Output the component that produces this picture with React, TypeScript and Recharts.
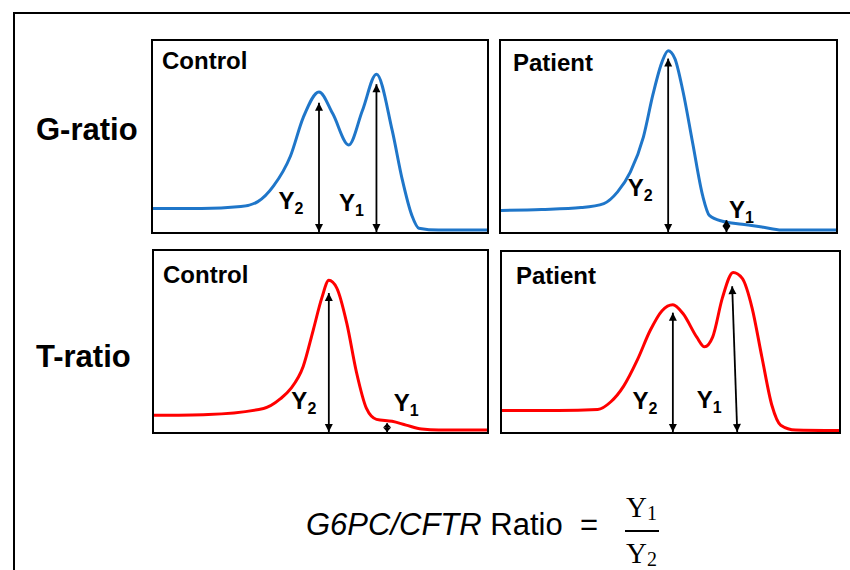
import { LineChart, Line, XAxis, YAxis, ReferenceLine } from "recharts"

// elution position (0-100 across the panel) and signal (0-100 of panel height)
const gControlX = [0, 14.5, 26.3, 31.4, 36.1, 41.1, 45, 49.7, 53.8, 58.6, 62.7, 66.9, 71.6, 74.6, 77.5, 79.6, 85.5, 100]
const gControlY = [12.3, 12.3, 13.3, 15.9, 24.1, 39.5, 60, 73.3, 62, 45.6, 63.6, 82.6, 53.3, 27.7, 8.7, 2, 1, 1]

const gPatientX = [0, 12.1, 23.9, 30.7, 34.8, 38.6, 42.5, 45.4, 48.1, 49.9, 51.9, 54.3, 57.2, 60.2, 62.2, 66.1, 72, 77.9, 83.8, 100]
const gPatientY = [11.3, 11.8, 12.8, 14.9, 21, 31.3, 49.7, 72.3, 89.2, 94.9, 90.8, 73.8, 46.7, 19, 8.7, 5.6, 4.1, 2.6, 1, 1]

const tControlX = [0, 16.3, 32.9, 38, 41, 44.8, 47.8, 50.4, 52.5, 54.9, 57.9, 60.8, 63.8, 66.8, 71.5, 75.7, 80.4, 85.5, 100]
const tControlY = [9.2, 9.7, 13, 18.4, 23.8, 36.2, 56.2, 74.1, 83.8, 79.5, 60, 33, 13, 7, 5.9, 3.8, 1.6, 1.1, 1.1]

const tPatientX = [0, 16.7, 28.4, 32.3, 36.1, 40.2, 44, 47.5, 50.7, 53.7, 57.8, 60.1, 62.5, 65.4, 68.6, 71.3, 74.2, 77.1, 80.1, 82.7, 87.1, 100]
const tPatientY = [12, 12, 12.5, 16.8, 25.5, 40.2, 56.5, 67.4, 70.7, 65.8, 52.7, 47.3, 52.7, 74.5, 88.6, 85.3, 69, 41.8, 14.7, 3.8, 1.1, 0.8]

// peak height arrows: x at baseline, xTop at tip, top = height
const gControlArrows = [
  { sub: "2", x: 49.7, xTop: 49.7, top: 67.7 },
  { sub: "1", x: 66.9, xTop: 66.9, top: 77.4 },
]
const gPatientArrows = [
  { sub: "2", x: 49.9, xTop: 49.9, top: 90.8 },
  { sub: "1", x: 67.3, xTop: 67.3, top: 6.2 },
]
const tControlArrows = [
  { sub: "2", x: 52.5, xTop: 52.5, top: 76.8 },
  { sub: "1", x: 70, xTop: 70, top: 4.9 },
]
const tPatientArrows = [
  { sub: "2", x: 50.7, xTop: 50.7, top: 66.3 },
  { sub: "1", x: 69.8, xTop: 68.3, top: 81 },
]

const rowLabels = ["G-ratio", "T-ratio"]
const panelTitles = ["Control", "Patient"]

const BLUE = "#1f76c9"
const RED = "#ff0000"
const SANS = '"Liberation Sans", Arial, sans-serif'
const SERIF = '"Liberation Serif", "DejaVu Serif", serif'

// label offsets in px: [dx from arrow base, height of label centre above baseline]
const panels = [
  { left: 151, top: 39, w: 338, h: 195, xs: gControlX, ys: gControlY, arrows: gControlArrows, color: BLUE, offs: [[-28, 31], [-25, 29]] },
  { left: 499, top: 39, w: 339, h: 195, xs: gPatientX, ys: gPatientY, arrows: gPatientArrows, color: BLUE, offs: [[-28, 44], [15, 22]] },
  { left: 152, top: 249, w: 337, h: 185, xs: tControlX, ys: tControlY, arrows: tControlArrows, color: RED, offs: [[-25, 31], [19, 29]] },
  { left: 500, top: 250, w: 341, h: 184, xs: tPatientX, ys: tPatientY, arrows: tPatientArrows, color: RED, offs: [[-28, 31], [-28, 32]] },
]

function arrowShape(sub: string, off: number[]) {
  return (p: any) => {
    const { x1, y1, x2, y2 } = p
    const len = Math.hypot(x2 - x1, y2 - y1) || 1
    const ux = (x2 - x1) / len
    const uy = (y2 - y1) / len
    const hl = Math.min(8, len / 2)
    const hw = 4
    const head = (tx: number, ty: number, dx: number, dy: number) => {
      const bx = tx - dx * hl
      const by = ty - dy * hl
      return `${tx},${ty} ${bx - dy * hw},${by + dx * hw} ${bx + dy * hw},${by - dx * hw}`
    }
    return (
      <g>
        <line x1={x1} y1={y1} x2={x2} y2={y2} stroke="#000" strokeWidth={1.8} />
        <polygon points={head(x2, y2, ux, uy)} fill="#000" />
        <polygon points={head(x1, y1, -ux, -uy)} fill="#000" />
        <text
          x={x1 + off[0]}
          y={y1 - off[1] + 8}
          textAnchor="middle"
          fontFamily={SANS}
          fontWeight="bold"
          fontSize={24}
          fill="#000"
        >
          Y<tspan fontSize={16} dy={5}>{sub}</tspan>
        </text>
      </g>
    )
  }
}

function Panel({ left, top, w, h, xs, ys, arrows, color, offs }: any) {
  const data = xs.map((x: number, i: number) => ({ x, y: ys[i] }))
  return (
    <div style={{ position: "absolute", left, top, width: w - 4, height: h - 4, border: "2px solid #000" }}>
      <LineChart width={w - 4} height={h - 4} data={data} margin={{ top: 0, right: 0, bottom: 0, left: 0 }}>
        <XAxis dataKey="x" type="number" domain={[0, 100]} hide />
        <YAxis type="number" domain={[0, 100]} hide />
        <Line type="monotone" dataKey="y" stroke={color} strokeWidth={3} dot={false} isAnimationActive={false} />
        {arrows.map((a: any, i: number) => (
          <ReferenceLine
            key={i}
            segment={[{ x: a.x, y: 0 }, { x: a.xTop, y: a.top }]}
            shape={arrowShape(a.sub, offs[i])}
          />
        ))}
      </LineChart>
    </div>
  )
}

export default function App() {
  return (
    <div style={{ position: "absolute", left: 0, top: 0, width: 850, height: 570, overflow: "hidden", background: "#fff" }}>
      {panels.map((p, i) => (
        <Panel key={i} {...p} />
      ))}
      <svg width={850} height={570} style={{ position: "absolute", left: 0, top: 0, pointerEvents: "none" }}>
        <path d="M14 600 L14 13 L860 13" fill="none" stroke="#000" strokeWidth={2} />
        <g fontFamily={SANS} fontWeight="bold" fill="#000">
          <text x={36} y={140} fontSize={31}>{rowLabels[0]}</text>
          <text x={36} y={367} fontSize={31}>{rowLabels[1]}</text>
          <text x={162} y={69} fontSize={24}>{panelTitles[0]}</text>
          <text x={513} y={71} fontSize={24}>{panelTitles[1]}</text>
          <text x={163} y={283} fontSize={24}>{panelTitles[0]}</text>
          <text x={516} y={284} fontSize={24}>{panelTitles[1]}</text>
        </g>
        <text x={306} y={535} fontFamily={SANS} fontSize={31} fill="#000">
          <tspan fontStyle="italic">G6PC/CFTR</tspan> Ratio
        </text>
        <text x={580} y={535} fontFamily={SANS} fontSize={31} fill="#000">=</text>
        <g fontFamily={SERIF} fill="#000">
          <text x={626} y={517} fontSize={29}>
            Y<tspan fontSize={20} dy={3}>1</tspan>
          </text>
          <line x1={625} y1={531} x2={659} y2={531} stroke="#000" strokeWidth={2} />
          <text x={626} y={563} fontSize={29}>
            Y<tspan fontSize={20} dy={3}>2</tspan>
          </text>
        </g>
      </svg>
    </div>
  )
}
